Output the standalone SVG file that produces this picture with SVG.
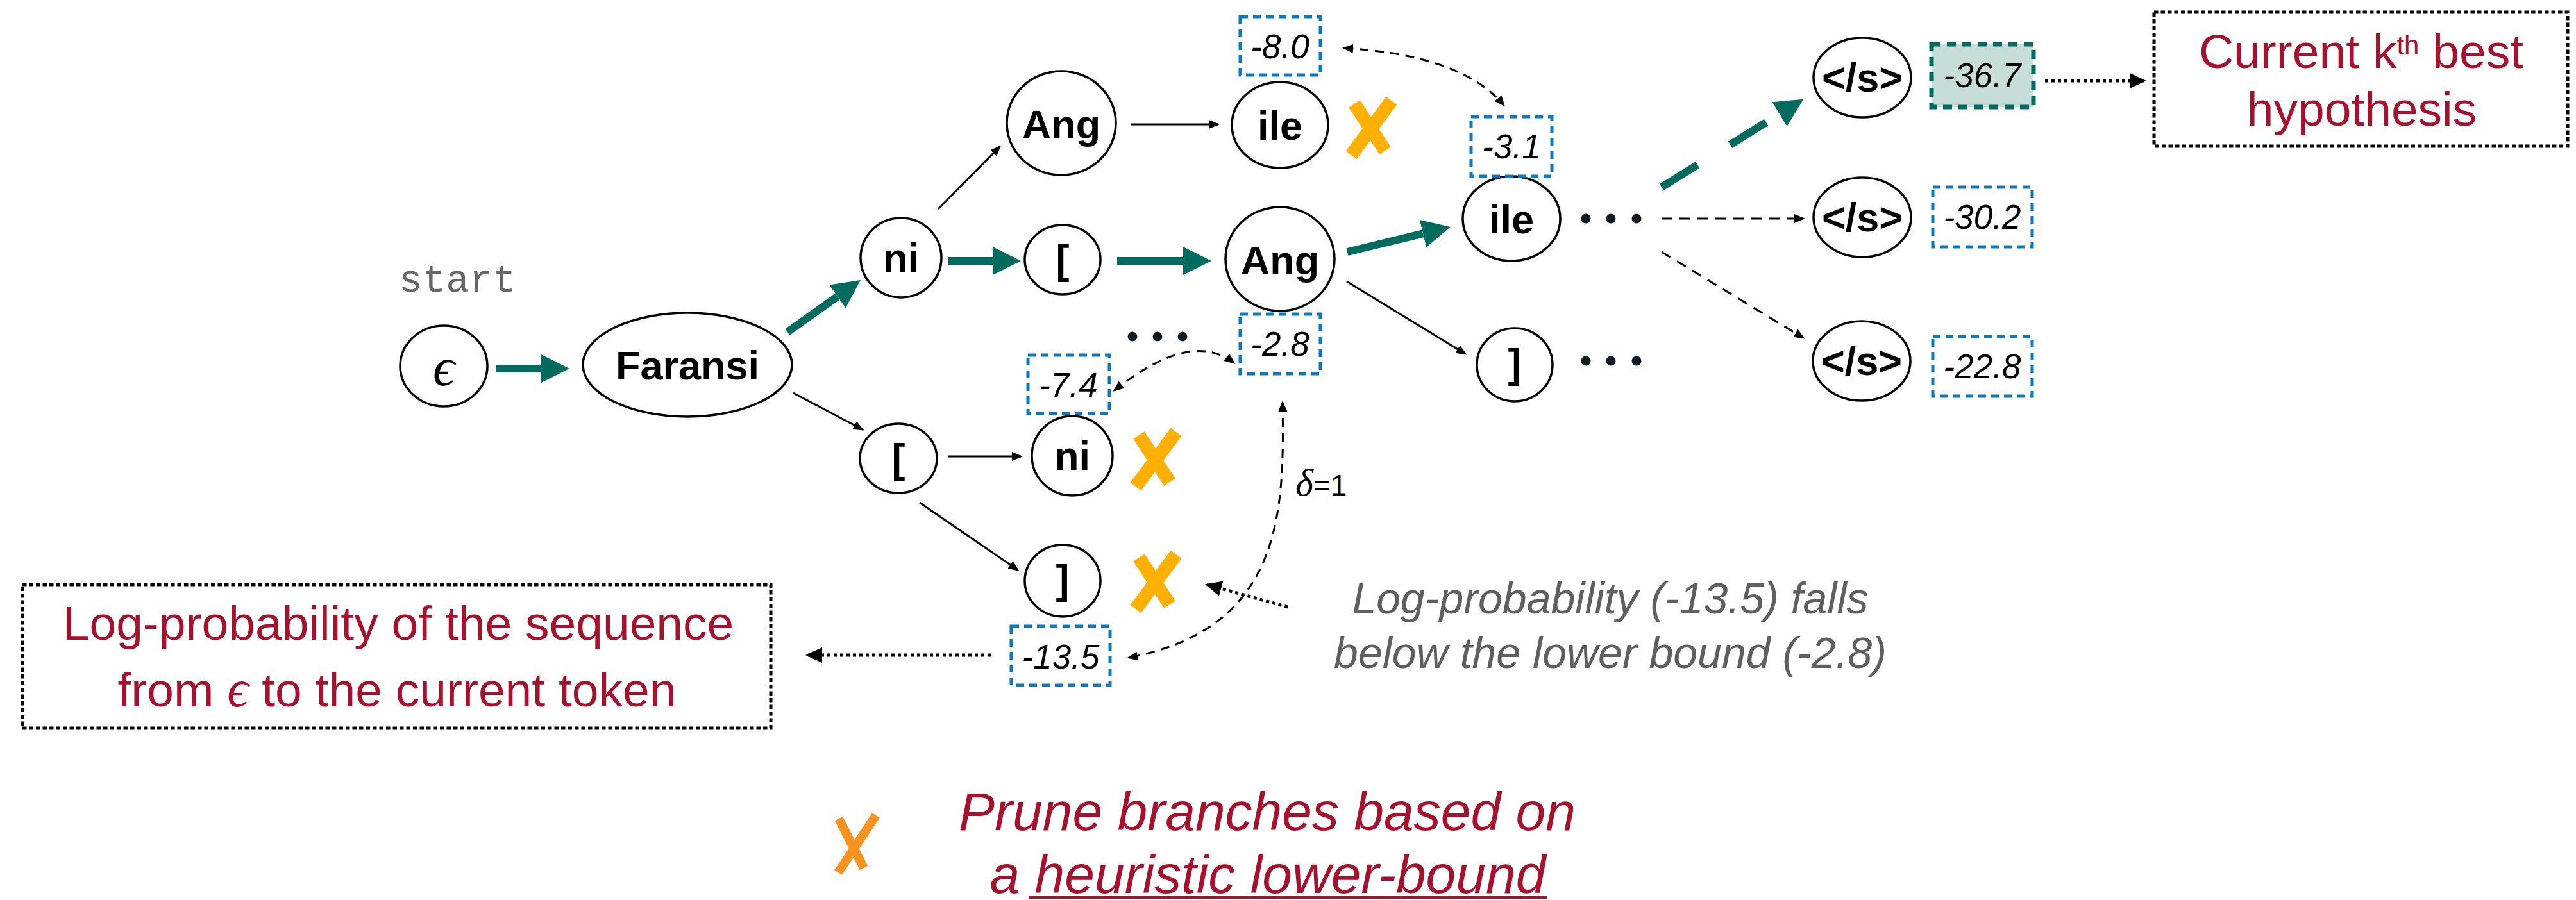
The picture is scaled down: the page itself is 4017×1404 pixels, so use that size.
<svg xmlns="http://www.w3.org/2000/svg" xmlns:xlink="http://www.w3.org/1999/xlink" width="4017" height="1404" viewBox="0 0 4017 1404">
  <style>
    .node ellipse { fill: #fff; stroke: #000; stroke-width: 3.5; }
    .lbl { font-family: "Liberation Sans", Arial, sans-serif; font-weight: bold; font-size: 63px; text-anchor: middle; fill: #000; }
    .val rect { fill: none; stroke: #0B79BF; stroke-width: 5; stroke-dasharray: 12 8; }
    .val text { font-family: "Liberation Sans", Arial, sans-serif; font-style: italic; font-size: 53px; text-anchor: middle; fill: #000; }
    .thin { stroke: #000; stroke-width: 3; fill: none; }
    .dash { stroke-dasharray: 16 12; }
    .cdash { stroke-dasharray: 14 10; }
    .teal { stroke: #026B5F; stroke-width: 12; fill: none; }
    .dot { stroke: #000; stroke-width: 5; stroke-dasharray: 5 5; fill: none; }
    .note { font-family: "Liberation Sans", Arial, sans-serif; fill: #A6122E; text-anchor: middle; }
    .grey { font-family: "Liberation Sans", Arial, sans-serif; font-style: italic; font-size: 68px; fill: #5f5f5f; text-anchor: middle; }
    .math { font-family: "Liberation Serif", "DejaVu Serif", serif; font-style: italic; }
    .ell { fill: #111820; }
  </style>
  <defs>
    <marker id="ah" markerUnits="userSpaceOnUse" viewBox="0 0 17 14" markerWidth="17" markerHeight="14" refX="14" refY="7" orient="auto-start-reverse">
      <path d="M0,0L17,7L0,14z" fill="#000"/>
    </marker>
    <marker id="ahT" markerUnits="userSpaceOnUse" viewBox="0 0 44 44" markerWidth="44" markerHeight="44" refX="0" refY="22" orient="auto">
      <path d="M0,0L44,22L0,44z" fill="#026B5F"/>
    </marker>
    <marker id="ahD" markerUnits="userSpaceOnUse" viewBox="0 0 26 24" markerWidth="26" markerHeight="24" refX="23" refY="12" orient="auto">
      <path d="M0,0L26,12L0,24z" fill="#000"/>
    </marker>
    <g id="xmark">
      <path d="M13,9 L61,82" stroke="#FFB000" stroke-width="21" fill="none"/>
      <path d="M71,4 L8,89" stroke="#FFB000" stroke-width="21" fill="none"/>
    </g>
  </defs>

  <rect width="4017" height="1404" fill="#fff"/>

  <!-- connectors -->
  <g id="connectors">
    <!-- best path (solid teal) -->
    <line class="teal" x1="774" y1="575" x2="844" y2="575" marker-end="url(#ahT)"/>
    <line class="teal" x1="1228" y1="518" x2="1306" y2="462.5" marker-end="url(#ahT)"/>
    <line class="teal" x1="1479" y1="407" x2="1548" y2="407" marker-end="url(#ahT)"/>
    <line class="teal" x1="1742" y1="407" x2="1845" y2="407" marker-end="url(#ahT)"/>
    <line class="teal" x1="2101" y1="393" x2="2219" y2="364.4" marker-end="url(#ahT)"/>
    <line class="teal" x1="2591" y1="292" x2="2775" y2="178" stroke-dasharray="66 60" marker-end="url(#ahT)"/>

    <!-- other expansions -->
    <line class="thin" x1="1463" y1="326" x2="1559" y2="229" marker-end="url(#ah)"/>
    <line class="thin" x1="1763" y1="194" x2="1899" y2="194" marker-end="url(#ah)"/>
    <line class="thin" x1="1237" y1="613" x2="1345" y2="670" marker-end="url(#ah)"/>
    <line class="thin" x1="1479" y1="712" x2="1592" y2="712" marker-end="url(#ah)"/>
    <line class="thin" x1="1434" y1="784" x2="1587" y2="889" marker-end="url(#ah)"/>
    <line class="thin" x1="2100" y1="439" x2="2285" y2="552" marker-end="url(#ah)"/>
    <line class="thin dash" x1="2591" y1="341" x2="2812" y2="341" marker-end="url(#ah)"/>
    <line class="thin dash" x1="2591" y1="393" x2="2812" y2="527" marker-end="url(#ah)"/>

    <!-- score comparisons -->
    <path class="thin cdash" d="M2096,75 Q2280,86 2345,164" marker-start="url(#ah)" marker-end="url(#ah)"/>
    <path class="thin cdash" d="M1738,609 Q1857,514 1924,566" marker-start="url(#ah)" marker-end="url(#ah)"/>
    <path class="thin cdash" d="M2000,628 C2003,800 2000,980 1760,1026" marker-start="url(#ah)" marker-end="url(#ah)"/>

    <!-- annotation pointers -->
    <line class="dot" x1="3189" y1="126" x2="3344" y2="126" marker-end="url(#ahD)"/>
    <line class="dot" x1="1545" y1="1022" x2="1259" y2="1022" marker-end="url(#ahD)"/>
    <line class="dot" x1="2008" y1="947" x2="1882" y2="912" marker-end="url(#ahD)"/>
  </g>

  <!-- start label -->
  <text x="622" y="455" font-family="'Liberation Mono', 'Courier New', monospace" font-size="61" fill="#666">start</text>

  <!-- token nodes -->
  <g id="n-eps" class="node"><ellipse cx="692" cy="571" rx="68" ry="63"/><text class="math" x="692" y="601" font-size="84" text-anchor="middle">ϵ</text></g>
  <g id="n-faransi" class="node"><ellipse cx="1072" cy="569" rx="163" ry="81"/><text class="lbl" x="1072" y="592">Faransi</text></g>
  <g id="n-ni1" class="node"><ellipse cx="1405" cy="402" rx="63" ry="62"/><text class="lbl" x="1405" y="424">ni</text></g>
  <g id="n-lb1" class="node"><ellipse cx="1657" cy="405" rx="59" ry="54"/><text class="lbl" x="1657" y="427">[</text></g>
  <g id="n-ang1" class="node"><ellipse cx="1655" cy="192" rx="85" ry="81"/><text class="lbl" x="1655" y="216">Ang</text></g>
  <g id="n-ile1" class="node"><ellipse cx="1996" cy="195" rx="75" ry="67"/><text class="lbl" x="1996" y="218">ile</text></g>
  <g id="n-ang2" class="node"><ellipse cx="1996" cy="404" rx="85" ry="81"/><text class="lbl" x="1996" y="428">Ang</text></g>
  <g id="n-ile2" class="node"><ellipse cx="2357" cy="341" rx="76" ry="66"/><text class="lbl" x="2357" y="364">ile</text></g>
  <g id="n-rb1" class="node"><ellipse cx="2362" cy="569" rx="59" ry="57"/><text class="lbl" x="2362" y="589">]</text></g>
  <g id="n-lb2" class="node"><ellipse cx="1401" cy="715" rx="60" ry="54"/><text class="lbl" x="1401" y="737">[</text></g>
  <g id="n-ni2" class="node"><ellipse cx="1672" cy="711" rx="63" ry="62"/><text class="lbl" x="1672" y="733">ni</text></g>
  <g id="n-rb2" class="node"><ellipse cx="1657" cy="906" rx="59" ry="56"/><text class="lbl" x="1657" y="926">]</text></g>
  <g id="n-eos1" class="node"><ellipse cx="2904" cy="121" rx="76" ry="62"/><text class="lbl" x="2904" y="143">&lt;/s&gt;</text></g>
  <g id="n-eos2" class="node"><ellipse cx="2904" cy="339" rx="76" ry="62"/><text class="lbl" x="2904" y="361">&lt;/s&gt;</text></g>
  <g id="n-eos3" class="node"><ellipse cx="2903" cy="563" rx="76" ry="62"/><text class="lbl" x="2903" y="585">&lt;/s&gt;</text></g>

  <!-- continuation dots -->
  <g id="ellipses">
    <circle class="ell" cx="2473" cy="341" r="7.5"/><circle class="ell" cx="2512" cy="341" r="7.5"/><circle class="ell" cx="2552" cy="341" r="7.5"/>
    <circle class="ell" cx="2473" cy="563" r="7.5"/><circle class="ell" cx="2512" cy="563" r="7.5"/><circle class="ell" cx="2552" cy="563" r="7.5"/>
    <circle class="ell" cx="1766" cy="525" r="7.5"/><circle class="ell" cx="1805" cy="525" r="7.5"/><circle class="ell" cx="1844" cy="525" r="7.5"/>
  </g>

  <!-- log-probability scores -->
  <g id="s-8-0" class="val"><rect x="1934" y="26" width="125" height="91"/><text x="1996" y="91">-8.0</text></g>
  <g id="s-3-1" class="val"><rect x="2294" y="182" width="126" height="93"/><text x="2357" y="247">-3.1</text></g>
  <g id="s-2-8" class="val"><rect x="1934" y="490" width="125" height="93"/><text x="1996" y="555">-2.8</text></g>
  <g id="s-7-4" class="val"><rect x="1603" y="554" width="127" height="91"/><text x="1666" y="619">-7.4</text></g>
  <g id="s-13-5" class="val"><rect x="1577" y="977" width="154" height="92"/><text x="1654" y="1043">-13.5</text></g>
  <g id="s-36-7" class="val"><rect x="3012" y="69" width="159" height="98" style="fill:#C7DDD7;stroke:#026B5F;stroke-width:7;stroke-dasharray:14 10"/><text x="3091" y="136">-36.7</text></g>
  <g id="s-30-2" class="val"><rect x="3014" y="292" width="155" height="93"/><text x="3091" y="357">-30.2</text></g>
  <g id="s-22-8" class="val"><rect x="3014" y="525" width="155" height="93"/><text x="3091" y="590">-22.8</text></g>

  <!-- pruned branches -->
  <g id="prune-marks">
    <use xlink:href="#xmark" x="2099" y="153"/>
    <use xlink:href="#xmark" x="1763" y="670"/>
    <use xlink:href="#xmark" x="1763" y="861"/>
  </g>

  <!-- delta label -->
  <text x="2020" y="773" font-family="'Liberation Sans', Arial, sans-serif" font-size="46" fill="#000"><tspan class="math" font-size="60">δ</tspan>=1</text>

  <!-- explanation of the prune -->
  <g id="prune-note">
    <text class="grey" x="2511" y="957">Log-probability (-13.5) falls</text>
    <text class="grey" x="2511" y="1042">below the lower bound (-2.8)</text>
  </g>

  <!-- kth best callout -->
  <g id="kth-box">
    <rect x="3359" y="19" width="645" height="209" fill="#fff" stroke="#000" stroke-width="5" stroke-dasharray="6.5 4"/>
    <text class="note" x="3682" y="106" font-size="75">Current k<tspan font-size="42" dy="-21">th</tspan><tspan dy="21"> best</tspan></text>
    <text class="note" x="3683" y="196" font-size="75">hypothesis</text>
  </g>

  <!-- log-probability callout -->
  <g id="logprob-box">
    <rect x="35" y="912" width="1167" height="224" fill="#fff" stroke="#000" stroke-width="5" stroke-dasharray="6.5 4"/>
    <text class="note" x="621" y="998" font-size="75">Log-probability of the sequence</text>
    <text class="note" x="619" y="1102" font-size="75">from <tspan class="math" font-size="82">ϵ</tspan> to the current token</text>
  </g>

  <!-- legend -->
  <g id="legend">
    <path d="M1308,1277 L1347,1354" stroke="#F7931E" stroke-width="14" fill="none"/>
    <path d="M1366,1272 L1307,1361" stroke="#F7931E" stroke-width="14" fill="none"/>
    <text class="note" x="1976" y="1295" font-size="84" font-style="italic">Prune branches based on</text>
    <text class="note" x="1977" y="1393" font-size="84" font-style="italic">a heuristic lower-bound</text>
    <line x1="1604" y1="1400" x2="2412" y2="1400" stroke="#A6122E" stroke-width="4"/>
  </g>
</svg>
